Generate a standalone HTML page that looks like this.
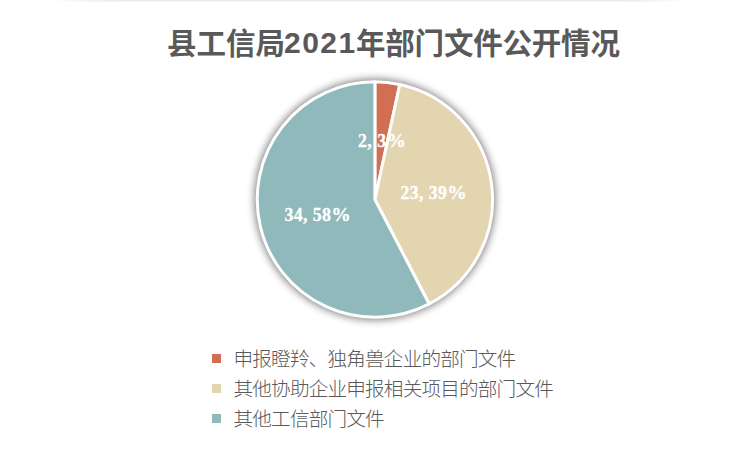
<!DOCTYPE html>
<html><head><meta charset="utf-8">
<style>
html,body{margin:0;padding:0;background:#fff;}
body{width:751px;height:451px;position:relative;overflow:hidden;}
.title{position:absolute;left:0;top:0;width:751px;white-space:nowrap;
 font-family:"Liberation Sans","Noto Sans CJK SC",sans-serif;font-weight:bold;font-size:29.5px;color:#595959;}
.title span{position:absolute;top:24px;line-height:40px;}
svg{position:absolute;left:0;top:0;}
.lbl{position:absolute;font-family:"Liberation Serif",serif;font-weight:bold;font-size:17.8px;letter-spacing:0.3px;word-spacing:0.5px;color:#fff;-webkit-text-stroke:0.3px #fff;white-space:nowrap;line-height:20px;}
.leg{position:absolute;font-family:"Liberation Sans","Noto Sans CJK SC",sans-serif;font-weight:300;font-size:19.6px;letter-spacing:-0.8px;color:#595959;white-space:nowrap;line-height:24px;}
.pc{font-size:19.5px;}
.sq{position:absolute;width:9px;height:9px;}
</style></head>
<body>
<div style="position:absolute;left:50px;top:0;width:640px;height:2px;background:linear-gradient(to right,rgba(0,0,0,0),rgba(0,0,0,0.05) 10%,rgba(0,0,0,0.05) 90%,rgba(0,0,0,0));"></div>
<div style="position:absolute;left:50px;top:0;width:640px;height:1px;background:linear-gradient(to right,rgba(0,0,0,0),rgba(0,0,0,0.03) 10%,rgba(0,0,0,0.03) 90%,rgba(0,0,0,0));"></div>
<div class="title"><span id="t1" style="left:167px">县工信局</span><span id="t2" style="left:284px;font-size:30px;letter-spacing:1.5px;top:23px">2021</span><span id="t3" style="left:356px;letter-spacing:-0.2px">年部门文件公开情况</span></div>
<svg width="751" height="451" viewBox="0 0 751 451">
<defs>
<filter id="sh" x="-20%" y="-20%" width="140%" height="140%">
<feGaussianBlur stdDeviation="4"/>
</filter>
</defs>
<circle cx="374.9" cy="199.5" r="120" fill="#000" opacity="0.55" filter="url(#sh)"/>
<g stroke="#fff" stroke-width="3" stroke-linejoin="round">
<path fill="#D26E54" d="M374.9,199.5 L374.90,81.80 A117.7,117.7 0 0 1 399.78,84.46 Z"/>
<path fill="#E2D5AF" d="M374.9,199.5 L399.78,84.46 A117.7,117.7 0 0 1 429.17,303.94 Z"/>
<path fill="#8FB9BB" d="M374.9,199.5 L429.17,303.94 A117.7,117.7 0 1 1 374.90,81.80 Z"/>
</g>
</svg>
<div class="lbl" style="left:358px;top:130.5px;">2, 3<span class="pc">%</span></div>
<div class="lbl" style="left:400.5px;top:182.5px;">23, 39<span class="pc">%</span></div>
<div class="lbl" style="left:284.5px;top:204.5px;">34, 58<span class="pc">%</span></div>

<div class="sq" style="left:212px;top:354px;background:#D26E54"></div>
<div class="leg" style="left:233.5px;top:347px;">申报瞪羚、独角兽企业的部门文件</div>
<div class="sq" style="left:212px;top:384px;background:#E2D5AF"></div>
<div class="leg" style="left:233.5px;top:377px;">其他协助企业申报相关项目的部门文件</div>
<div class="sq" style="left:212px;top:414px;background:#8FB9BB"></div>
<div class="leg" style="left:233.5px;top:407px;">其他工信部门文件</div>
</body></html>
